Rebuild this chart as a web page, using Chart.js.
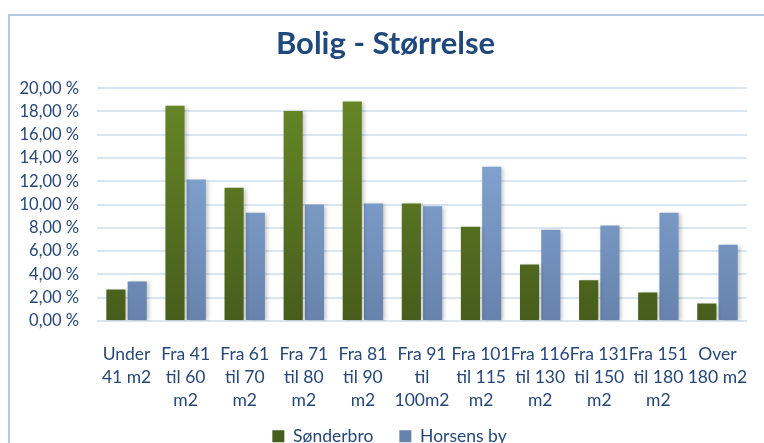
<!DOCTYPE html>
<html>
<head>
<meta charset="utf-8">
<script src="https://cdn.jsdelivr.net/npm/chart.js@4"></script>
<style>
  html, body { margin: 0; padding: 0; background: #fff; overflow: hidden; }
  #wrap { position: relative; width: 764px; height: 443px; overflow: hidden; }
  #frame { position: absolute; left: 8px; top: 14px; width: 900px; height: 600px; border: 2px solid #B3C8E3; }
  #holder { position: absolute; left: 0; top: 0; width: 764px; height: 455px; }
</style>
</head>
<body>
<div id="wrap">
  <div id="frame"></div>
  <div id="holder"><canvas id="chart"></canvas></div>
</div>
<script>
// categories (wrapped like in the original)
const categories = [
  ["Under", "41 m2"],
  ["Fra 41", "til 60", "m2"],
  ["Fra 61", "til 70", "m2"],
  ["Fra 71", "til 80", "m2"],
  ["Fra 81", "til 90", "m2"],
  ["Fra 91", "til", "100m2"],
  ["Fra 101", "til 115", "m2"],
  ["Fra 116", "til 130", "m2"],
  ["Fra 131", "til 150", "m2"],
  ["Fra 151", "til 180", "m2"],
  ["Over", "180 m2"]
];

// percent values
const sonderbro = [2.7, 18.5, 11.45, 18.05, 18.85, 10.1, 8.1, 4.85, 3.5, 2.45, 1.5];
const horsensBy = [3.4, 12.15, 9.3, 10.0, 10.1, 9.85, 13.25, 7.85, 8.2, 9.3, 6.55];

const seriesNames = ["Sønderbro", "Horsens by"];

const textColor = "#264778";

function gradient(ctx, top, bottom) {
  const area = ctx.chart.chartArea;
  if (!area) return top;
  const g = ctx.chart.ctx.createLinearGradient(0, area.top, 0, area.bottom);
  g.addColorStop(0, top);
  g.addColorStop(1, bottom);
  return g;
}

// soft shadow behind the bars
const barShadow = {
  id: "barShadow",
  beforeDatasetsDraw(chart) {
    const c = chart.ctx;
    c.save();
    c.shadowColor = "rgba(0,0,0,0.22)";
    c.shadowBlur = 4;
    c.shadowOffsetX = 2;
    c.shadowOffsetY = 1;
  },
  afterDatasetsDraw(chart) {
    chart.ctx.restore();
  }
};

// nudge title and legend a bit to the right, like the original,
// and let the x labels run into the (empty) top of the legend box
const nudge = {
  id: "nudge",
  afterLayout(chart) {
    if (chart.titleBlock) chart.titleBlock.left += 8;
    if (chart.legend) chart.legend.left += 16;
    const x = chart.scales.x;
    x.bottom += 24;
    x.height += 24;
  }
};

new Chart(document.getElementById("chart"), {
  type: "bar",
  data: {
    labels: categories,
    datasets: [
      {
        label: seriesNames[0],
        data: sonderbro,
        backgroundColor: (ctx) => gradient(ctx, "#678827", "#475D1C"),
        borderWidth: 0,
      },
      {
        label: seriesNames[1],
        data: horsensBy,
        backgroundColor: (ctx) => gradient(ctx, "#8DB1E0", "#6783AC"),
        borderWidth: 0,
      },
    ],
  },
  options: {
    responsive: true,
    maintainAspectRatio: false,
    animation: false,
    datasets: {
      bar: { categoryPercentage: 0.72, barPercentage: 0.9 }
    },
    layout: { padding: { left: 16, right: 17, top: 0, bottom: 0 } },
    plugins: {
      title: {
        display: true,
        text: "Bolig - Størrelse",
        color: "#1F497D",
        font: { family: "Lato", size: 31, weight: "bold" },
        padding: { top: 25, bottom: 26 },
      },
      legend: {
        position: "bottom",
        labels: {
          color: textColor,
          font: { family: "Lato", size: 17.5 },
          boxWidth: 12,
          boxHeight: 12,
          padding: 26,
        },
      },
      tooltip: { enabled: false },
    },
    scales: {
      x: {
        grid: { display: false },
        border: { display: false },
        ticks: {
          color: textColor,
          font: { family: "Lato", size: 17.5, lineHeight: 1.32 },
          maxRotation: 0,
          autoSkip: false,
          padding: 14,
        },
        afterFit: (scale) => { scale.height = 80.5; },
      },
      y: {
        min: 0,
        max: 20,
        grid: { color: "#DAE5F2", lineWidth: 2, drawTicks: false },
        border: { display: false },
        ticks: {
          stepSize: 2,
          color: textColor,
          font: { family: "Lato", size: 16.5 },
          padding: 18,
          callback: (v) => v.toFixed(2).replace(".", ",") + " %",
        },
        afterFit: (scale) => { scale.width = 81; },
      },
    },
  },
  plugins: [barShadow, nudge],
});
</script>
</body>
</html>
